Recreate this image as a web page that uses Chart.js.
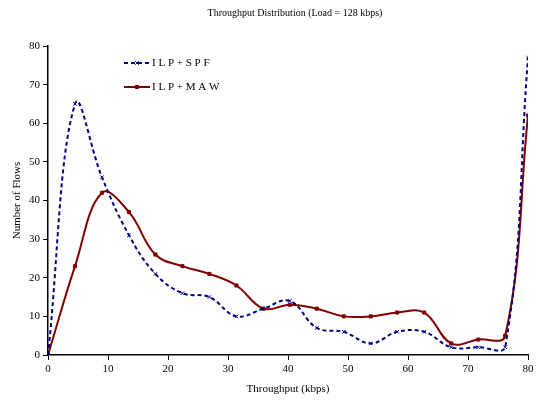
<!DOCTYPE html>
<html>
<head>
<meta charset="utf-8">
<script src="https://cdn.jsdelivr.net/npm/chart.js@4.4.1/dist/chart.umd.min.js"></script>
<style>
  html, body { margin: 0; padding: 0; background: #fff; }
  #wrap { width: 537px; height: 400px; position: relative; }
</style>
</head>
<body>
<div id="wrap"><canvas id="c" width="537" height="400"></canvas></div>
<script>
const titleText = 'Throughput Distribution (Load = 128 kbps)';
const xTitle = 'Throughput (kbps)';
const yTitle = 'Number of Flows';
const throughput = [0, 4.5, 9, 13.5, 17.9, 22.4, 26.9, 31.4, 35.9, 40.3, 44.8, 49.3, 53.8, 58.2, 62.7, 67.2, 71.7, 76.2, 80];
const spfFlows = [0, 65, 46, 31, 21, 16, 15, 10, 12, 14, 7, 6, 3, 6, 6, 2, 2, 2, 77];
const mawFlows = [0, 23, 42, 37, 26, 23, 21, 18, 12, 13, 12, 10, 10, 11, 11, 3, 4, 5, 62];
const seriesNames = ['I L P + S P F', 'I L P + M A W'];
const xTicks = [0, 10, 20, 30, 40, 50, 60, 70, 80];
const yTicks = [0, 10, 20, 30, 40, 50, 60, 70, 80];

const FONT = "'Liberation Serif', 'Times New Roman', serif";

function toPoints(xs, ys) { return xs.map((x, i) => ({ x: x, y: ys[i] })); }

const titlePlugin = {
  id: 'customTitle',
  afterDraw(chart) {
    const ctx = chart.ctx;
    ctx.save();
    ctx.font = '10px ' + FONT;
    ctx.fillStyle = '#000';
    ctx.textAlign = 'center';
    ctx.textBaseline = 'middle';
    ctx.fillText(titleText, 295, 13);
    ctx.restore();
  }
};

const legendPlugin = {
  id: 'innerLegend',
  afterDraw(chart) {
    const ctx = chart.ctx;
    const rows = [63, 87];
    chart.data.datasets.forEach((ds, i) => {
      const y = rows[i];
      const x0 = 124, x1 = 150;
      ctx.save();
      ctx.strokeStyle = ds.borderColor;
      ctx.lineWidth = ds.borderWidth;
      ctx.setLineDash(ds.borderDash || []);
      ctx.beginPath();
      ctx.moveTo(x0, y);
      ctx.lineTo(x1, y);
      ctx.stroke();
      ctx.setLineDash([]);
      ctx.strokeStyle = ds.pointBorderColor;
      ctx.fillStyle = ds.pointBackgroundColor || ds.pointBorderColor;
      ctx.lineWidth = ds.pointBorderWidth || 1;
      Chart.helpers.drawPoint(ctx, {
        pointStyle: ds.pointStyle,
        radius: ds.pointRadius,
        borderWidth: ds.pointBorderWidth || 1,
        rotation: 0
      }, (x0 + x1) / 2, y);
      ctx.fillStyle = '#000';
      ctx.font = '11px ' + FONT;
      ctx.textAlign = 'left';
      ctx.textBaseline = 'middle';
      ctx.fillText(ds.label, 152, y);
      ctx.restore();
    });
  }
};

new Chart(document.getElementById('c'), {
  type: 'line',
  data: {
    datasets: [
      {
        label: seriesNames[0],
        data: toPoints(throughput, spfFlows),
        borderColor: '#000080',
        backgroundColor: '#000080',
        borderWidth: 2,
        borderDash: [4, 3],
        pointStyle: 'crossRot',
        pointRadius: 2.5,
        pointBorderWidth: 1,
        pointBorderColor: '#000080',
        pointBackgroundColor: '#000080',
        tension: 0.4,
        fill: false
      },
      {
        label: seriesNames[1],
        data: toPoints(throughput, mawFlows),
        borderColor: '#800000',
        backgroundColor: '#800000',
        borderWidth: 2,
        pointStyle: 'rect',
        pointRadius: 2.2,
        pointBorderWidth: 1,
        pointBorderColor: '#800000',
        pointBackgroundColor: '#800000',
        tension: 0.4,
        fill: false
      }
    ]
  },
  options: {
    responsive: false,
    animation: false,
    devicePixelRatio: 1,
    layout: { padding: { top: 46, right: 9, bottom: 0, left: 0 } },
    plugins: {
      legend: { display: false },
      title: { display: false },
      tooltip: { enabled: false }
    },
    scales: {
      x: {
        type: 'linear',
        min: 0, max: 80,
        afterFit(s) { s.height = 45; },
        afterBuildTicks(s) { s.ticks = xTicks.map(v => ({ value: v })); },
        grid: { drawOnChartArea: false, drawTicks: true, tickLength: 5, color: '#000', lineWidth: 1 },
        border: { display: true, color: '#000', width: 1.5 },
        ticks: { color: '#000', font: { family: FONT, size: 11 }, padding: 3, maxRotation: 0 },
        title: { display: true, text: xTitle, color: '#000', font: { family: FONT, size: 11 }, padding: { top: 2, bottom: 4 } }
      },
      y: {
        type: 'linear',
        min: 0, max: 80,
        afterFit(s) { s.width = 48; },
        afterBuildTicks(s) { s.ticks = yTicks.map(v => ({ value: v })); },
        grid: { drawOnChartArea: false, drawTicks: true, tickLength: 5, color: '#000', lineWidth: 1 },
        border: { display: true, color: '#000', width: 1.5 },
        ticks: { color: '#000', font: { family: FONT, size: 11 }, padding: 3 },
        title: { display: true, text: yTitle, color: '#000', font: { family: FONT, size: 11 }, padding: { top: 11, bottom: 0 } }
      }
    }
  },
  plugins: [titlePlugin, legendPlugin]
});
</script>
</body>
</html>
